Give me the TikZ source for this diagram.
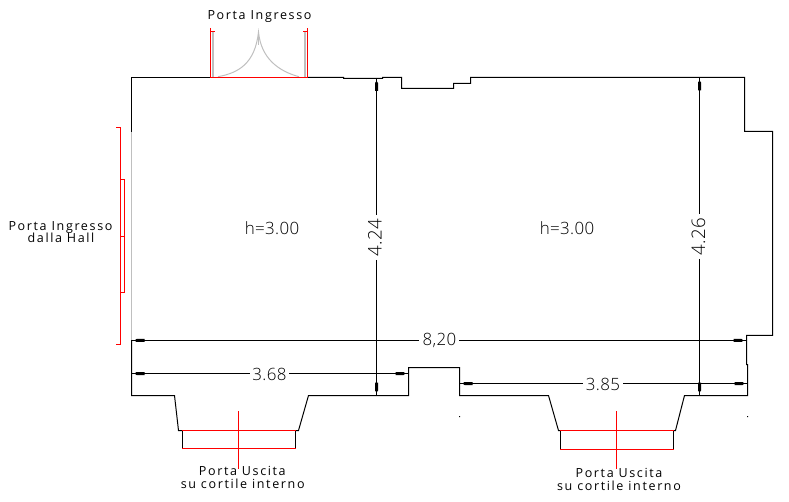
\documentclass[tikz,border=0pt]{standalone}
\usepackage{fontspec}
\setmainfont{Open Sans}
\newfontfamily\cadfont{Open Sans}[LetterSpace=13]
\newfontfamily\numfont{Open Sans Light}[LetterSpace=2]
\newcommand\tipH[3]{\fill[black] ({#1+(#3)*3},#2) -- ({#1+(#3)*5},#2-1.5) -- ({#1+(#3)*13},#2-1.5) -- ({#1+(#3)*13},#2+1.5) -- ({#1+(#3)*5},#2+1.5) -- cycle;}
\newcommand\tipV[3]{\fill[black] (#1,{#2+(#3)*3}) -- (#1-1.5,{#2+(#3)*5}) -- (#1-1.5,{#2+(#3)*13}) -- (#1+1.5,{#2+(#3)*13}) -- (#1+1.5,{#2+(#3)*5}) -- cycle;}
\tikzset{
  wall/.style={draw=black,line width=0.75pt,line join=miter},
  dim/.style={draw=black,line width=0.75pt},
  red door/.style={draw=red,line width=0.75pt},
  gray door/.style={draw=black!25,line width=0.75pt},
  label text/.style={font=\cadfont\fontsize{9.4}{11}\selectfont,anchor=base,inner sep=0pt},
  number/.style={font=\numfont\fontsize{12.7}{14}\selectfont,anchor=base,inner sep=0pt},
  vnumber/.style={font=\numfont\fontsize{14}{16}\selectfont,anchor=base,inner sep=0pt,rotate=90},
}
\begin{document}
\begin{tikzpicture}[x=0.75pt,y=-0.75pt]
\useasboundingbox (0,0) rectangle (789,502);
% outline
\draw[wall] (210,77.5) -- (131.5,77.5) -- (131.5,132);
\draw[wall] (308,77.5) -- (343.5,77.5) -- (343.5,78.5) -- (382.5,78.5) -- (382.5,77.5) -- (401.5,77.5) -- (401.5,88.5) -- (453.5,88.5) -- (453.5,83.5) -- (470.5,83.5) -- (470.5,77.5) -- (744.5,77.5) -- (744.5,131.5) -- (772.5,131.5) -- (772.5,335.5) -- (746.5,335.5) -- (746.5,364.5) -- (747.5,364.5) -- (747.5,395.5) -- (684.5,395.5) -- (675.5,430.5) -- (673.5,430.5);
\draw[wall] (560.5,430.5) -- (558.5,430.5) -- (548.5,395.5) -- (459.5,395.5) -- (459.5,367.5) -- (408.5,367.5) -- (408.5,395.5) -- (308.5,395.5) -- (298.5,430.5) -- (295.5,430.5);
\draw[wall] (182.5,430.5) -- (178.5,430.5) -- (174.5,395.5) -- (131.5,395.5) -- (131.5,340);
\draw[wall] (182.5,430.5) -- (182.5,448.5) (295.5,430.5) -- (295.5,448.5);
\draw[wall] (560.5,430.5) -- (560.5,449.5) (673.5,430.5) -- (673.5,449.5);
\fill[black] (459,416) rectangle (460,417) (747,416) rectangle (748,417);
% lower red doors
\draw[red door] (182,430.5) -- (296,430.5) (182,448.5) -- (296,448.5) (238.5,411) -- (238.5,469);
\draw[red door] (560,430.5) -- (674,430.5) (560,449.5) -- (674,449.5) (616.5,411) -- (616.5,469);
% left door
\draw[gray door] (131.5,132) -- (131.5,340);
\draw[red door] (116,127.5) -- (120.5,127.5) -- (120.5,344.5) -- (116,344.5);
\draw[red door] (120.5,179.5) -- (124.5,179.5) -- (124.5,292.5) -- (120.5,292.5) (120.5,236.5) -- (124.5,236.5);
% top door
\draw[gray door,line width=1.5pt] (213,31) -- (213,77) (305,31) -- (305,77);
\draw[gray door] (218,76.7) .. controls (238,73) and (255,64) .. (258.5,32) .. controls (261,58) and (278,71) .. (299,76.7);
\draw[gray door] (258.5,31) -- (258.5,45);
\draw[red door] (215,31.5) -- (210.5,31.5) (210.5,28) -- (210.5,77.5) -- (307.5,77.5) -- (307.5,28) (303,31.5) -- (307.5,31.5);
% dimensions
\coordinate (a1) at (131.5,340.5); \coordinate (a2) at (419,340.5); \coordinate (a3) at (459,340.5); \coordinate (a4) at (746.5,340.5);
\draw[dim] (a1) -- (a2) (a3) -- (a4);
\coordinate (b1) at (131.5,373.5); \coordinate (b2) at (250,373.5); \coordinate (b3) at (289,373.5); \coordinate (b4) at (408.5,373.5);
\draw[dim] (b1) -- (b2) (b3) -- (b4);
\coordinate (c1) at (459.5,383.5); \coordinate (c2) at (583,383.5); \coordinate (c3) at (623,383.5); \coordinate (c4) at (747.5,383.5);
\draw[dim] (c1) -- (c2) (c3) -- (c4);
\coordinate (d1) at (376.5,78); \coordinate (d2) at (376.5,215); \coordinate (d3) at (376.5,260); \coordinate (d4) at (376.5,395.5);
\draw[dim] (d1) -- (d2) (d3) -- (d4);
\coordinate (e1) at (699.5,77.5); \coordinate (e2) at (699.5,214); \coordinate (e3) at (699.5,259); \coordinate (e4) at (699.5,395.5);
\draw[dim] (e1) -- (e2) (e3) -- (e4);
\tipH{131.5}{340.5}{1}\tipH{746.5}{340.5}{-1}
\tipH{131.5}{373.5}{1}\tipH{408.5}{373.5}{-1}
\tipH{459.5}{383.5}{1}\tipH{747.5}{383.5}{-1}
\tipV{376.5}{78}{1}\tipV{376.5}{395.5}{-1}
\tipV{699.5}{77.5}{1}\tipV{699.5}{395.5}{-1}
% numbers
\node[number] (n820) at (439.5,345.7) {8,20};
\node[number] (n368) at (269.5,380) {3.68};
\node[number] (n385) at (603,390) {3.85};
\node[vnumber] (n424) at (381.5,237.5) {4.24};
\node[vnumber] (n426) at (705,236.5) {4.26};
\node[number] (h1) at (272,234.7) {h=3.00};
\node[number] (h2) at (567,234.7) {h=3.00};
% labels
\node[label text] (t1) at (259.5,20) {Porta Ingresso};
\node[label text] (t2) at (60.5,231) {Porta Ingresso};
\node[label text] (t3) at (61,243) {dalla Hall};
\node[label text] (t4) at (242.3,475.7) {Porta Uscita};
\node[label text] (t5) at (242.7,488.7) {su cortile interno};
\node[label text] (t6) at (619,477.7) {Porta Uscita};
\node[label text] (t7) at (619,490.7) {su cortile interno};
\end{tikzpicture}
\end{document}
